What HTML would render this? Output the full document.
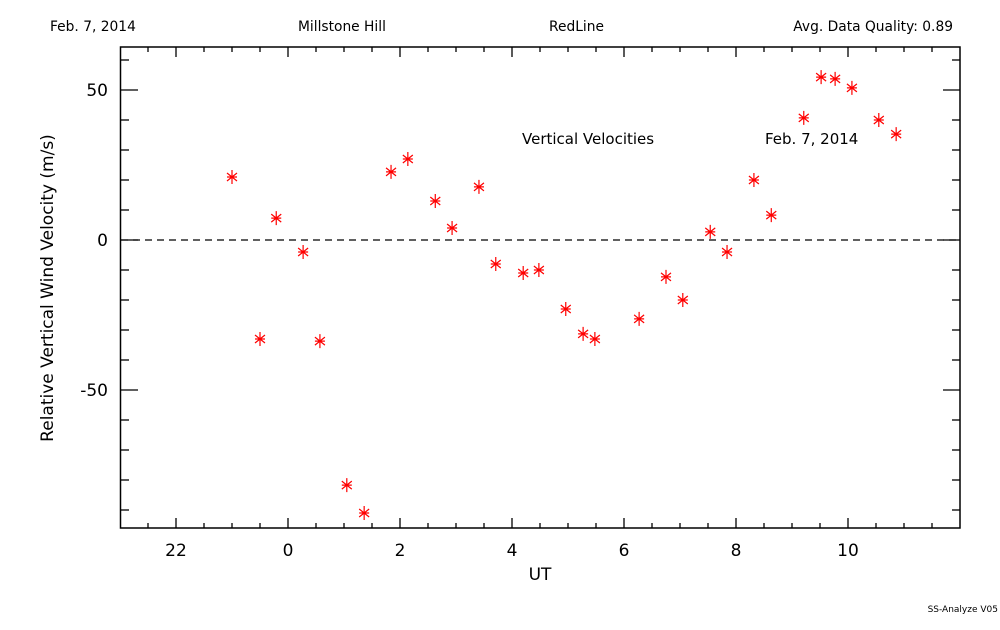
<!DOCTYPE html>
<html><head><meta charset="utf-8"><style>
body{margin:0;background:#fff;}
svg text{font-family:"DejaVu Sans","Liberation Sans",sans-serif;fill:#000;}
</style></head><body>
<svg id="chart" width="1000" height="625" xmlns="http://www.w3.org/2000/svg">
<rect width="1000" height="625" fill="#fff"/>
<text x="50" y="31" font-size="13.8">Feb. 7, 2014</text>
<text x="298" y="31" font-size="13.8">Millstone Hill</text>
<text x="549" y="31" font-size="13.8">RedLine</text>
<text x="953" y="31" font-size="13.8" text-anchor="end">Avg. Data Quality: 0.89</text>
<text x="998" y="612" font-size="9" text-anchor="end">SS-Analyze V05</text>
<rect x="120.5" y="47" width="839.5" height="481" fill="none" stroke="#000" stroke-width="1.5"/>
<g id="axes"></g>
<line x1="121" x2="960" y1="240" y2="240" stroke="#000" stroke-dasharray="7,5" stroke-width="1.2"/>
<text x="522" y="144" font-size="15">Vertical Velocities</text>
<text x="765" y="144" font-size="15">Feb. 7, 2014</text>
<text x="540" y="580" font-size="17" text-anchor="middle">UT</text>
<text transform="translate(53,288) rotate(-90)" font-size="17" text-anchor="middle">Relative Vertical Wind Velocity (m/s)</text>
<g id="points"></g>
</svg>
<script>
const hours=[-1.0,-0.5,-0.21,0.27,0.57,1.05,1.36,1.84,2.14,2.63,2.93,3.41,3.71,4.2,4.48,4.96,5.27,5.48,6.27,6.75,7.05,7.54,7.84,8.32,8.63,9.21,9.52,9.77,10.07,10.55,10.86];
const velocities=[21,-33,7.3,-4,-33.7,-81.7,-91,22.7,27,13,4,17.7,-8,-11,-10,-23,-31.3,-33,-26.3,-12.3,-20,2.7,-4,20,8.3,40.7,54.3,53.7,50.7,40,35.3];
const xTickValues=[-2,0,2,4,6,8,10];
const xTickLabels=["22","0","2","4","6","8","10"];
const yTickValues=[-50,0,50];
const yTickLabels=["-50","0","50"];
const NS="http://www.w3.org/2000/svg";
function xs(h){return 288+(h)*56;}
function ys(v){return 240-v*3;}
const ax=document.getElementById('axes');
function ln(x1,y1,x2,y2,name){const l=document.createElementNS(NS,'line');
l.setAttribute('x1',x1);l.setAttribute('y1',y1);l.setAttribute('x2',x2);l.setAttribute('y2',y2);
l.setAttribute('stroke','#000');l.setAttribute('stroke-width','1.3');


ax.appendChild(l);}
function tx(x,y,s,anchor,name){const t=document.createElementNS(NS,'text');
t.setAttribute('x',x);t.setAttribute('y',y);t.setAttribute('font-size','17');t.setAttribute('text-anchor',anchor);t.textContent=s;


ax.appendChild(t);}
for(let h=-2.5;h<=11.5;h+=0.5){const x=xs(h);const major=Math.abs(h-Math.round(h))<1e-6&&Math.round(h)%2===0;const len=major?10:5;
ln(x,528,x,528-len,'x-tick');ln(x,47,x,47+len,'x-tick-top');}
for(let v=-90;v<=60;v+=10){const y=ys(v);const major=v%50===0;const len=major?17:8;
ln(121,y,121+len,y,'y-tick');ln(960,y,960-len,y,'y-tick-right');}
xTickValues.forEach((v,i)=>tx(xs(v),556,xTickLabels[i],'middle','x-tick-label'));
yTickValues.forEach((v,i)=>tx(108,ys(v)+6,yTickLabels[i],'end','y-tick-label'));
const pg=document.getElementById('points');
hours.forEach((h,i)=>{const x=xs(h),y=ys(velocities[i]);
const g=document.createElementNS(NS,'path');
g.setAttribute('d',`M${x} ${y-7}V${y+7}M${x-5} ${y-4}L${x+5} ${y+4}M${x-5} ${y+4}L${x+5} ${y-4}M${x-5} ${y}H${x+5}`);
g.setAttribute('stroke','#f00');g.setAttribute('stroke-width','1.2');g.setAttribute('fill','none');


pg.appendChild(g);});
</script>
</body></html>
